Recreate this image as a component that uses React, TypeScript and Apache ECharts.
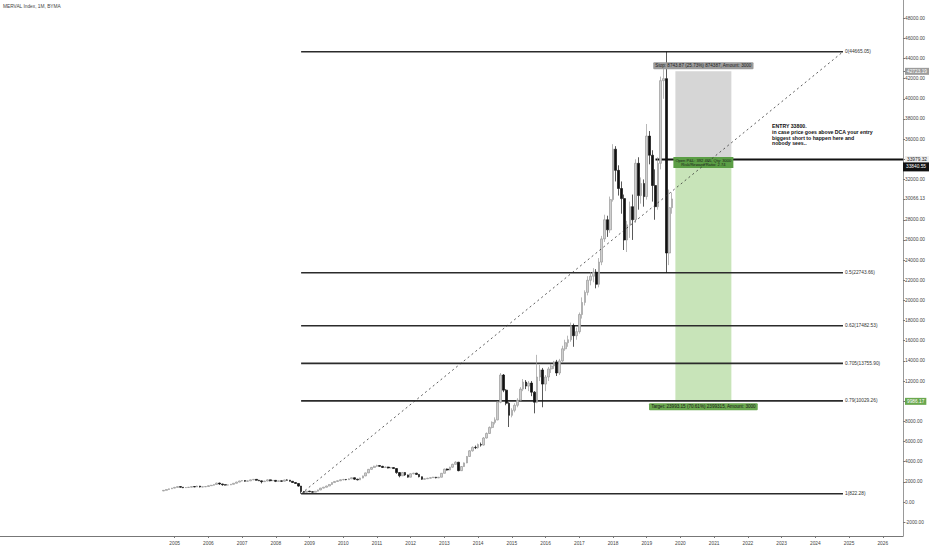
import { useEffect, useRef } from "react";
import * as echarts from "echarts";

// MERVAL monthly candles, rows are [open, close, low, high]
const firstYear = 2004;
const firstMonth = 9;
const y2004 = [
  [1100, 1160, 1080, 1190], [1160, 1240, 1140, 1260], [1240, 1310, 1220, 1330], [1310, 1380, 1290, 1400],
];
const y2005 = [
  [1380, 1450, 1360, 1500], [1450, 1530, 1430, 1560], [1530, 1470, 1440, 1550], [1470, 1420, 1380, 1490],
  [1420, 1440, 1390, 1470], [1440, 1470, 1420, 1500], [1470, 1530, 1450, 1550], [1530, 1500, 1470, 1560],
  [1500, 1580, 1490, 1620], [1580, 1490, 1450, 1600], [1490, 1510, 1460, 1540], [1510, 1540, 1480, 1570],
];
const y2006 = [
  [1540, 1620, 1520, 1650], [1620, 1660, 1600, 1700], [1660, 1740, 1640, 1770], [1740, 1880, 1720, 1920],
  [1880, 1790, 1700, 1920], [1790, 1720, 1620, 1810], [1720, 1680, 1640, 1750], [1680, 1700, 1650, 1730],
  [1700, 1760, 1680, 1790], [1760, 1860, 1740, 1880], [1860, 1980, 1840, 2010], [1980, 2090, 1960, 2110],
];
const y2007 = [
  [2090, 2130, 2050, 2180], [2130, 2060, 2020, 2160], [2060, 2100, 1990, 2120], [2100, 2200, 2080, 2230],
  [2200, 2250, 2170, 2280], [2250, 2160, 2130, 2270], [2160, 2100, 2080, 2200], [2100, 2020, 1850, 2120],
  [2020, 2080, 2000, 2110], [2080, 2200, 2060, 2250], [2200, 2110, 2050, 2220], [2110, 2150, 2080, 2180],
];
const y2008 = [
  [2150, 2050, 1980, 2170], [2050, 2100, 2020, 2130], [2100, 2060, 2000, 2120], [2060, 2190, 2040, 2220],
  [2190, 2170, 2130, 2250], [2170, 2060, 2030, 2190], [2060, 1940, 1900, 2080], [1940, 1840, 1800, 1960],
  [1840, 1580, 1520, 1860], [1580, 1040, 822.28, 1600], [1040, 960, 880, 1100], [960, 1080, 940, 1110],
];
const y2009 = [
  [1080, 1020, 990, 1110], [1020, 980, 940, 1060], [980, 1070, 950, 1100], [1070, 1200, 1050, 1230],
  [1200, 1380, 1180, 1400], [1380, 1470, 1350, 1500], [1470, 1590, 1450, 1620], [1590, 1740, 1570, 1770],
  [1740, 1930, 1720, 1960], [1930, 2040, 1900, 2080], [2040, 2110, 2000, 2150], [2110, 2210, 2080, 2240],
];
const y2010 = [
  [2210, 2240, 2150, 2290], [2240, 2220, 2160, 2270], [2220, 2300, 2200, 2340], [2300, 2410, 2280, 2450],
  [2410, 2270, 2200, 2430], [2270, 2200, 2150, 2300], [2200, 2380, 2180, 2410], [2380, 2590, 2360, 2620],
  [2590, 2890, 2570, 2920], [2890, 3240, 2870, 3280], [3240, 3430, 3210, 3480], [3430, 3550, 3400, 3600],
];
const y2011 = [
  [3550, 3620, 3500, 3700], [3620, 3540, 3480, 3660], [3540, 3430, 3380, 3590], [3430, 3470, 3390, 3520],
  [3470, 3380, 3330, 3500], [3380, 3420, 3340, 3460], [3420, 3320, 3280, 3460], [3320, 2920, 2800, 3350],
  [2920, 2600, 2450, 2960], [2600, 2930, 2580, 2980], [2930, 2690, 2600, 2970], [2690, 2470, 2420, 2720],
];
const y2012 = [
  [2470, 2800, 2450, 2850], [2800, 2860, 2760, 2900], [2860, 2740, 2700, 2900], [2740, 2510, 2450, 2770],
  [2510, 2260, 2200, 2530], [2260, 2310, 2220, 2350], [2310, 2360, 2280, 2400], [2360, 2420, 2320, 2460],
  [2420, 2460, 2380, 2500], [2460, 2400, 2350, 2490], [2400, 2460, 2370, 2490], [2460, 2850, 2440, 2880],
];
const y2013 = [
  [2850, 3270, 2830, 3300], [3270, 3180, 3120, 3320], [3180, 3460, 3150, 3500], [3460, 3740, 3400, 3800],
  [3740, 3950, 3700, 4050], [3950, 3110, 3050, 3980], [3110, 3520, 3080, 3560], [3520, 3880, 3480, 3920],
  [3880, 4520, 3850, 4560], [4520, 5080, 4480, 5150], [5080, 5420, 5000, 5520], [5420, 5390, 5250, 5600],
];
const y2014 = [
  [5390, 5700, 5300, 5800], [5700, 5650, 5500, 5900], [5650, 6350, 5600, 6450], [6350, 6800, 6300, 6900],
  [6800, 7400, 6750, 7500], [7400, 7900, 7300, 8000], [7900, 8150, 7700, 8400], [8150, 9900, 8100, 10000],
  [9900, 12600, 9800, 12800], [12600, 11100, 10900, 12700], [11100, 9800, 9600, 11200], [9800, 8600, 7440, 9900],
];
const y2015 = [
  [8600, 9100, 8400, 9300], [9100, 9600, 8900, 9800], [9600, 10100, 9400, 10300], [10100, 11200, 10000, 11400],
  [11200, 11900, 11000, 12200], [11900, 11500, 11200, 12100], [11500, 11800, 11000, 12000], [11800, 10900, 10500, 12000],
  [10900, 9900, 8800, 11000], [9900, 12400, 9800, 14600], [12400, 13100, 12000, 13600], [13100, 11700, 9400, 13300],
];
const y2016 = [
  [11700, 12400, 11000, 12600], [12400, 13200, 12000, 13400], [13200, 13500, 12800, 13700], [13500, 13900, 13200, 14000],
  [13900, 12800, 12500, 14100], [12800, 14000, 12600, 14200], [14000, 15200, 13900, 15500], [15200, 15800, 15000, 16100],
  [15800, 16100, 15400, 16500], [16100, 17500, 15900, 17800], [17500, 16500, 15400, 17700], [16500, 16900, 16100, 17300],
];
const y2017 = [
  [16900, 18600, 16700, 18800], [18600, 19800, 18200, 20300], [19800, 20800, 19500, 21000], [20800, 22000, 20500, 22400],
  [22000, 22400, 21500, 22800], [22400, 22800, 21800, 23200], [22800, 21600, 21200, 23100], [21600, 23800, 21300, 24200],
  [23800, 26100, 23500, 26400], [26100, 28000, 25800, 28500], [28000, 27000, 26300, 28400], [27000, 30000, 26700, 30300],
];
const y2018 = [
  [30000, 35000, 29800, 35500], [35000, 32900, 31800, 35300], [32900, 31100, 30400, 33400], [31100, 30100, 28600, 31800],
  [30100, 26000, 25000, 30500], [26000, 27500, 24800, 27900], [27500, 29300, 26200, 29800], [29300, 28000, 26000, 30500],
  [28000, 33600, 27700, 34000], [33600, 30400, 29000, 34200], [30400, 31600, 29600, 32200], [31600, 30300, 29300, 32000],
];
const y2019 = [
  [30300, 36300, 30000, 37500], [36300, 34400, 33500, 36800], [34400, 31400, 29800, 34900], [31400, 29300, 28000, 33000],
  [29300, 33600, 29000, 34200], [33600, 41800, 33000, 42200], [41800, 42000, 40000, 43000], [42000, 24700, 22743.66, 44665.05],
  [24700, 29200, 23500, 31000], [29200, 30066.13, 28600, 30700],
];
const candleYears = [y2004, y2005, y2006, y2007, y2008, y2009, y2010, y2011, y2012, y2013, y2014, y2015, y2016, y2017, y2018, y2019];

// fibonacci retracement drawn from the Oct 2008 low to the Aug 2019 high
const fibRatios = [0, 0.5, 0.62, 0.705, 0.79, 1];
const fibPrices = [44665.05, 22743.66, 17482.53, 13755.9, 10029.26, 822.28];
const fibStart = 2008.75;
const fibEnd = 2024.82;

// short position tool
const entryPrice = 33979.32;
const stopPrice = 42723.19;
const targetPrice = 9986.17;
const markPrice = 33840.55;
const lastPrice = 30066.13;
const posStart = 2019.85;
const posEnd = 2021.51;
const entryLineStart = 2019.26;

const yearTicks = [2005, 2006, 2007, 2008, 2009, 2010, 2011, 2012, 2013, 2014, 2015, 2016, 2017, 2018, 2019, 2020, 2021, 2022, 2023, 2024, 2025, 2026];
const priceTicks = [-2000, 0, 2000, 4000, 6000, 8000, 9986.17, 12000, 14000, 16000, 18000, 20000, 22000, 24000, 26000, 28000, 30066.13, 32000, 33979.32, 36000, 38000, 40000, 42000, 42723.19, 44000, 46000, 48000];

const xMin = 1999.82;
const xMax = 2026.6;
const yMin = -3370;
const yMax = 49800;

const font = "'Liberation Sans', Arial, sans-serif";

export default function App() {
  const chartRef = useRef<HTMLDivElement>(null);

  useEffect(() => {
    document.body.style.margin = "0";
    if (!chartRef.current) return;
    const chart = echarts.init(chartRef.current, null, { renderer: "svg" });

    const candles: number[][] = [];
    candleYears.forEach((rows, i) => {
      const year = firstYear + i;
      const m0 = i === 0 ? firstMonth : 1;
      rows.forEach((r, j) => {
        candles.push([year + (m0 - 1 + j) / 12, r[0], r[1], r[2], r[3]]);
      });
    });

    const fibSeries = fibRatios.map((ratio, i) => ({
      type: "line",
      data: [[fibStart, fibPrices[i]], [fibEnd, fibPrices[i]]],
      showSymbol: false,
      silent: true,
      lineStyle: { color: "#2b2b2b", width: 1.6 },
      endLabel: {
        show: true,
        distance: 2,
        fontSize: 4.8,
        fontFamily: font,
        color: "#333",
        formatter: `${ratio}(${fibPrices[i].toFixed(2)})`,
      },
    }));

    const posMid = (posStart + posEnd) / 2;

    const option = {
      animation: false,
      textStyle: { fontFamily: font },
      grid: { left: 0, right: 26, top: 0, bottom: 14 },
      xAxis: {
        type: "value",
        min: xMin,
        max: xMax,
        splitLine: { show: false },
        axisLine: { onZero: false, lineStyle: { color: "#777", width: 1 } },
        axisTick: { show: true, customValues: yearTicks, length: 2, lineStyle: { color: "#777" } },
        axisLabel: {
          customValues: yearTicks,
          fontSize: 4.8,
          color: "#444",
          margin: 5,
          formatter: (v: number) => String(v),
        },
      },
      yAxis: {
        type: "value",
        position: "right",
        min: yMin,
        max: yMax,
        splitLine: { show: false },
        axisLine: { show: true, onZero: false, lineStyle: { color: "#999", width: 1 } },
        axisTick: { show: true, customValues: priceTicks, length: 2, lineStyle: { color: "#777" } },
        axisLabel: {
          customValues: priceTicks,
          fontSize: 4.8,
          color: "#444",
          margin: 2,
          formatter: (v: number) => {
            const s = v.toFixed(2);
            if (v === stopPrice) return `{stop|${s}}`;
            if (v === targetPrice) return `{target|${s}}`;
            if (v === entryPrice) return `{plain|${s}}`;
            return s;
          },
          rich: {
            stop: { backgroundColor: "#9c9c9c", color: "#fff", fontSize: 4.8, padding: [1, 2] },
            target: { backgroundColor: "#6aa84f", color: "#fff", fontSize: 4.8, padding: [1, 2] },
            plain: { backgroundColor: "#eeeeee", color: "#222", fontSize: 4.8, padding: [1, 2] },
          },
        },
      },
      graphic: [
        {
          type: "text",
          left: 3,
          top: 4,
          style: { text: "MERVAL Index, 1M, BYMA", fontSize: 4.8, fontFamily: font, fill: "#444" },
        },
        {
          type: "text",
          left: 772,
          top: 123,
          style: {
            text: "ENTRY 33800.\nin case price goes above DCA your entry\nbiggest short to happen here and\nnobody sees..",
            fontSize: 5.2,
            lineHeight: 5.8,
            fontWeight: "bold",
            fontFamily: font,
            fill: "#111",
          },
        },
      ],
      series: [
        {
          type: "line",
          data: [[entryLineStart, entryPrice], [xMax, entryPrice]],
          showSymbol: false,
          silent: true,
          z: 3,
          lineStyle: { color: "#111", width: 2 },
          markArea: {
            silent: true,
            data: [
              [
                { coord: [posStart, stopPrice], itemStyle: { color: "#d6d6d6" } },
                { coord: [posEnd, entryPrice] },
              ],
              [
                { coord: [posStart, entryPrice], itemStyle: { color: "#c8e4b9" } },
                { coord: [posEnd, targetPrice] },
              ],
            ],
          },
          markPoint: {
            silent: true,
            symbol: "rect",
            symbolSize: 0,
            data: [
              {
                coord: [posMid, stopPrice],
                label: {
                  show: true,
                  position: "top",
                  distance: 2,
                  formatter: "Stop: 8743.87 (25.73%) 874387, Amount: 3000",
                  backgroundColor: "#9c9c9c",
                  color: "#222",
                  fontSize: 4.6,
                  padding: [1, 2],
                  borderRadius: 1,
                },
              },
              {
                coord: [posMid, entryPrice],
                label: {
                  show: true,
                  position: "inside",
                  offset: [0, 3],
                  formatter: "Open P&L: 392 465, Qty: 3000\nRisk/Reward Ratio: 2.74",
                  backgroundColor: "#5b9e45",
                  color: "#1a1a1a",
                  fontSize: 4.1,
                  lineHeight: 4.6,
                  padding: [1, 2],
                  align: "center",
                },
              },
              {
                coord: [posMid, targetPrice],
                label: {
                  show: true,
                  position: "bottom",
                  distance: 2,
                  formatter: "Target: 23993.15 (70.61%) 2399315, Amount: 3000",
                  backgroundColor: "#6aa84f",
                  color: "#1a1a1a",
                  fontSize: 4.6,
                  padding: [1, 2],
                  borderRadius: 1,
                },
              },
              {
                coord: [xMax, markPrice],
                label: {
                  show: true,
                  position: "right",
                  distance: 0,
                  offset: [0, 6],
                  formatter: markPrice.toFixed(2),
                  backgroundColor: "#111",
                  color: "#fff",
                  fontSize: 4.8,
                  padding: [2, 3],
                },
              },
            ],
          },
        },
        ...fibSeries,
        {
          type: "candlestick",
          data: candles,
          barWidth: 2.2,
          z: 4,
          itemStyle: {
            color: "#cfcfcf",
            color0: "#111",
            borderColor: "#999",
            borderColor0: "#111",
            borderWidth: 0.7,
          },
        },
        {
          type: "line",
          data: [[fibStart, fibPrices[5]], [fibEnd, fibPrices[0]]],
          showSymbol: false,
          silent: true,
          z: 5,
          lineStyle: { color: "#333", width: 0.8, type: [2, 3] },
        },
      ],
    };

    chart.setOption(option as any);
    return () => {
      chart.dispose();
    };
  }, []);

  return <div ref={chartRef} style={{ width: "932px", height: "550px" }} />;
}
